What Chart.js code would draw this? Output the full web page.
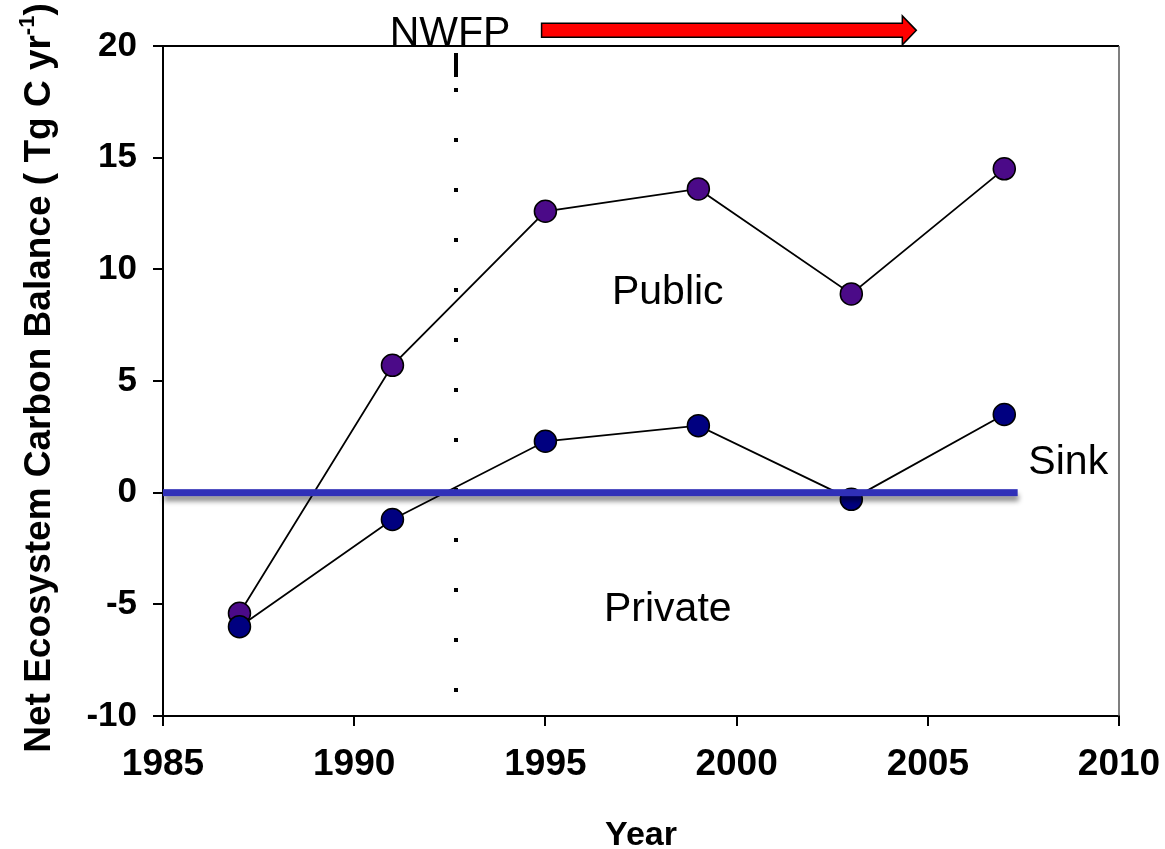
<!DOCTYPE html>
<html>
<head>
<meta charset="utf-8">
<title>Net Ecosystem Carbon Balance</title>
<script src="https://cdn.jsdelivr.net/npm/chart.js@4.4.1/dist/chart.umd.min.js"></script>
<style>
  html, body { margin: 0; padding: 0; background: #ffffff; }
  #wrap { width: 1165px; height: 849px; }
</style>
</head>
<body>
<div id="wrap"><canvas id="necb" width="1165" height="849"></canvas></div>
<script>
// Survey years and net ecosystem carbon balance (Tg C / yr) by ownership
const YEARS = [1987, 1991, 1995, 1999, 2003, 2007];
const PUBLIC_NECB = [-5.4, 5.7, 12.6, 13.6, 8.9, 14.5];
const PRIVATE_NECB = [-6.0, -1.2, 2.3, 3.0, -0.3, 3.5];

// Axis ticks
const X_TICKS = [1985, 1990, 1995, 2000, 2005, 2010];
const Y_TICKS = [-10, -5, 0, 5, 10, 15, 20];

// Northwest Forest Plan: adoption year and the period of the arrow
const NWFP_YEAR = 1992.65;
const NWFP_ARROW = [1994.9, 2004.7];
// Extent of the zero (sink/source) line
const ZERO_LINE = [1985, 2007.35];

const FONT = '"Liberation Sans", Arial, Helvetica, sans-serif';

const toPoints = vals => YEARS.map((yr, i) => ({ x: yr, y: vals[i] }));

const overlay = {
  id: 'necbOverlay',
  beforeDatasetsDraw(chart) {
    const { ctx, chartArea: a, scales: { x } } = chart;
    const px = Math.round(x.getPixelForValue(NWFP_YEAR));
    ctx.save();
    ctx.strokeStyle = '#000';
    ctx.lineWidth = 4;
    ctx.lineCap = 'butt';
    // leading dash, then sparse square dots
    ctx.beginPath();
    ctx.moveTo(px, a.top + 7);
    ctx.lineTo(px, a.top + 31);
    ctx.stroke();
    ctx.setLineDash([4, 46]);
    ctx.beginPath();
    ctx.moveTo(px, a.top + 42);
    ctx.lineTo(px, a.bottom - 20);
    ctx.stroke();
    ctx.restore();
  },
  afterDatasetsDraw(chart) {
    const { ctx, scales: { x, y } } = chart;
    const y0 = y.getPixelForValue(0);
    const x1 = x.getPixelForValue(ZERO_LINE[0]);
    const x2 = x.getPixelForValue(ZERO_LINE[1]);
    ctx.save();
    ctx.shadowColor = 'rgba(0,0,0,0.45)';
    ctx.shadowBlur = 5;
    ctx.shadowOffsetY = 5;
    ctx.shadowOffsetX = 1;
    ctx.fillStyle = '#3030b8';
    ctx.fillRect(x1, y0 - 3.5, x2 - x1, 7);
    ctx.restore();
  },
  afterDraw(chart) {
    const { ctx, chartArea: a, scales: { x, y } } = chart;
    ctx.save();

    // frame top and right
    ctx.strokeStyle = '#000';
    ctx.lineWidth = 2;
    ctx.beginPath();
    ctx.moveTo(a.left - 1, a.top);
    ctx.lineTo(a.right, a.top);
    ctx.stroke();
    ctx.strokeStyle = '#555';
    ctx.lineWidth = 1.5;
    ctx.beginPath();
    ctx.moveTo(a.right, a.top);
    ctx.lineTo(a.right, a.bottom);
    ctx.stroke();

    // region labels
    ctx.fillStyle = '#000';
    ctx.font = '41px ' + FONT;
    ctx.textBaseline = 'alphabetic';
    ctx.textAlign = 'center';
    ctx.fillText('Public', x.getPixelForValue(1998.2), y.getPixelForValue(8.47));
    ctx.fillText('Private', x.getPixelForValue(1998.2), y.getPixelForValue(-5.74));
    ctx.textAlign = 'left';
    ctx.fillText('Sink', x.getPixelForValue(2007.63), y.getPixelForValue(0.85));
    ctx.fillText('NWFP', x.getPixelForValue(1990.93), y.getPixelForValue(20.03));

    // NWFP period arrow
    const ax1 = x.getPixelForValue(NWFP_ARROW[0]);
    const tip = x.getPixelForValue(NWFP_ARROW[1]);
    const ay = y.getPixelForValue(20.7);
    const head = 14, shaft = 7, wing = 14.5;
    ctx.beginPath();
    ctx.moveTo(ax1, ay - shaft);
    ctx.lineTo(tip - head, ay - shaft);
    ctx.lineTo(tip - head, ay - wing);
    ctx.lineTo(tip, ay);
    ctx.lineTo(tip - head, ay + wing);
    ctx.lineTo(tip - head, ay + shaft);
    ctx.lineTo(ax1, ay + shaft);
    ctx.closePath();
    ctx.fillStyle = '#ff0000';
    ctx.fill();
    ctx.strokeStyle = '#000';
    ctx.lineWidth = 1.5;
    ctx.stroke();

    // axis titles
    ctx.fillStyle = '#000';
    ctx.font = 'bold 34px ' + FONT;
    ctx.textAlign = 'center';
    ctx.fillText('Year', (a.left + a.right) / 2, 845);

    const size = 37;
    const main = 'Net Ecosystem Carbon Balance ( Tg C yr';
    const sup = '-1';
    const tail = ')';
    ctx.translate(50, 378);
    ctx.rotate(-Math.PI / 2);
    ctx.textAlign = 'left';
    ctx.font = 'bold ' + size + 'px ' + FONT;
    const w1 = ctx.measureText(main).width;
    const w3 = ctx.measureText(tail).width;
    ctx.font = 'bold ' + Math.round(size * 0.6) + 'px ' + FONT;
    const w2 = ctx.measureText(sup).width;
    let cx = -(w1 + w2 + w3) / 2;
    ctx.font = 'bold ' + size + 'px ' + FONT;
    ctx.fillText(main, cx, 0);
    cx += w1;
    ctx.font = 'bold ' + Math.round(size * 0.6) + 'px ' + FONT;
    ctx.fillText(sup, cx, -size * 0.42);
    cx += w2;
    ctx.font = 'bold ' + size + 'px ' + FONT;
    ctx.fillText(tail, cx, 0);
    ctx.restore();
  }
};

const lineStyle = {
  borderColor: '#000',
  borderWidth: 1.8,
  pointRadius: 11,
  pointHoverRadius: 11,
  pointBorderColor: '#000',
  pointBorderWidth: 1.5,
  tension: 0,
  fill: false
};

new Chart(document.getElementById('necb'), {
  type: 'line',
  data: {
    datasets: [
      Object.assign({ label: 'Private', data: toPoints(PRIVATE_NECB), pointBackgroundColor: '#000080', order: 0 }, lineStyle),
      Object.assign({ label: 'Public', data: toPoints(PUBLIC_NECB), pointBackgroundColor: '#4b0a88', order: 1 }, lineStyle)
    ]
  },
  options: {
    responsive: false,
    animation: false,
    devicePixelRatio: 1,
    events: [],
    layout: { padding: { top: 46, right: 46, left: 0, bottom: 0 } },
    plugins: { legend: { display: false }, tooltip: { enabled: false } },
    scales: {
      x: {
        type: 'linear',
        min: X_TICKS[0],
        max: X_TICKS[X_TICKS.length - 1],
        afterBuildTicks: s => { s.ticks = X_TICKS.map(v => ({ value: v })); },
        afterFit: s => { s.height = 133; s.paddingLeft = 0; s.paddingRight = 0; },
        ticks: {
          callback: v => String(v),
          color: '#000',
          font: { family: FONT, weight: 'bold', size: 37 },
          padding: 17,
          maxRotation: 0,
          autoSkip: false
        },
        grid: { display: true, drawOnChartArea: false, drawTicks: true, tickLength: 10, color: '#000', lineWidth: 2 },
        border: { display: true, color: '#000', width: 2 }
      },
      y: {
        type: 'linear',
        min: Y_TICKS[0],
        max: Y_TICKS[Y_TICKS.length - 1],
        afterBuildTicks: s => { s.ticks = Y_TICKS.map(v => ({ value: v })); },
        afterFit: s => { s.width = 163; s.paddingTop = 0; s.paddingBottom = 0; },
        ticks: {
          callback: v => String(v),
          color: '#000',
          font: { family: FONT, weight: 'bold', size: 35 },
          padding: 16,
          autoSkip: false
        },
        grid: { display: true, drawOnChartArea: false, drawTicks: true, tickLength: 10, color: '#000', lineWidth: 2 },
        border: { display: true, color: '#000', width: 2 }
      }
    }
  },
  plugins: [overlay]
});
</script>
</body>
</html>
